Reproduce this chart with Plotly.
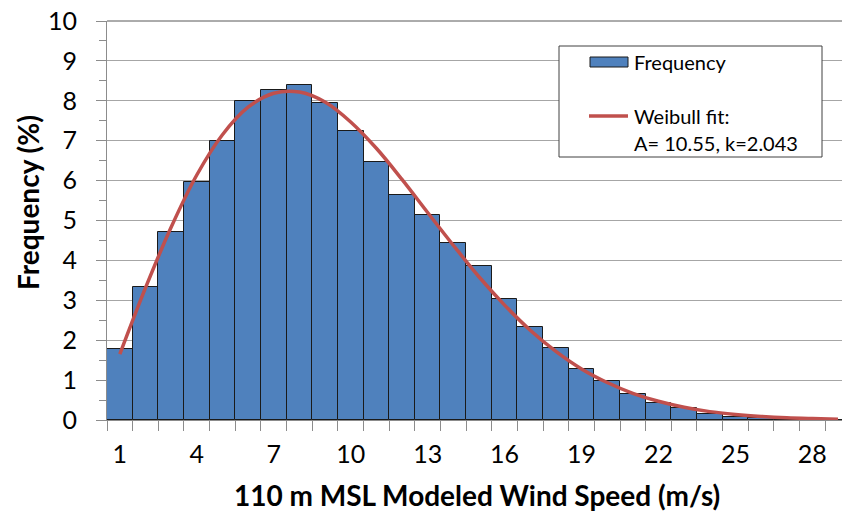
import plotly.graph_objects as go

# Wind speed bins (m/s) and frequency (%)
speed_bins = list(range(1, 30))
frequency = [1.78, 3.33, 4.70, 5.97, 7.00, 7.99, 8.26, 8.40, 7.94, 7.25,
             6.47, 5.65, 5.15, 4.43, 3.86, 3.03, 2.32, 1.80, 1.29, 0.99,
             0.65, 0.42, 0.29, 0.14, 0.08, 0.04, 0.02, 0.01, 0.005]

# Weibull fit curve
fit_x = list(range(1, 30))
fit_y = [1.65, 3.31, 4.83, 6.14, 7.15, 7.84, 8.19, 8.22, 7.97, 7.47,
         6.81, 6.03, 5.20, 4.38, 3.59, 2.88, 2.25, 1.72, 1.28, 0.94,
         0.67, 0.47, 0.32, 0.21, 0.14, 0.09, 0.055, 0.035, 0.02]

x_tick_vals = [1, 4, 7, 10, 13, 16, 19, 22, 25, 28]
y_tick_vals = list(range(0, 11))

legend_labels = ["Frequency", "Weibull fit:", "A= 10.55, k=2.043"]
x_title = "110 m MSL Modeled Wind Speed (m/s)"
y_title = "Frequency (%)"

FONT = "Lato"
W, H = 842, 512
L, R, T, B = 107, 0, 21, 92
PW, PH = W - L - R, H - T - B


def px_x(p):
    return (p - L) / PW


def px_y(p):
    return (H - B - p) / PH


fig = go.Figure()
fig.add_trace(go.Bar(
    x=speed_bins, y=frequency, width=1, name=legend_labels[0],
    marker=dict(color="#4F81BD", line=dict(color="#1a1a1a", width=1)),
))
fig.add_trace(go.Scatter(
    x=fit_x, y=fit_y, mode="lines", line_shape="spline",
    name=legend_labels[1] + " " + legend_labels[2],
    line=dict(color="#C0504D", width=3.5),
))

shapes = [
    # plot-area top border
    dict(type="line", xref="paper", yref="paper", x0=0, x1=1, y0=1, y1=1,
         line=dict(color="#595959", width=1)),
    # legend box
    dict(type="rect", xref="paper", yref="paper",
         x0=px_x(559), x1=px_x(822), y0=px_y(157), y1=px_y(46),
         fillcolor="white", line=dict(color="#404040", width=1), layer="above"),
    # legend swatch: bars
    dict(type="rect", xref="paper", yref="paper",
         x0=px_x(590), x1=px_x(628), y0=px_y(67), y1=px_y(57),
         fillcolor="#4F81BD", line=dict(color="#1a1a1a", width=1), layer="above"),
    # legend swatch: line
    dict(type="line", xref="paper", yref="paper",
         x0=px_x(589), x1=px_x(628), y0=px_y(116), y1=px_y(116),
         line=dict(color="#C0504D", width=3.5), layer="above"),
]

annotations = [
    dict(text=legend_labels[0], xref="paper", yref="paper", x=px_x(632), y=px_y(62),
         xanchor="left", yanchor="middle", showarrow=False, font=dict(size=20)),
    dict(text=legend_labels[1], xref="paper", yref="paper", x=px_x(632), y=px_y(116),
         xanchor="left", yanchor="middle", showarrow=False, font=dict(size=20)),
    dict(text=legend_labels[2], xref="paper", yref="paper", x=px_x(632), y=px_y(143),
         xanchor="left", yanchor="middle", showarrow=False, font=dict(size=20)),
    dict(text="<b>" + x_title + "</b>", xref="paper", yref="paper",
         x=px_x(477), y=px_y(495), xanchor="center", yanchor="middle",
         showarrow=False, font=dict(size=28)),
    dict(text="<b>" + y_title + "</b>", xref="paper", yref="paper",
         x=px_x(28), y=px_y(203), xanchor="center", yanchor="middle",
         textangle=-90, showarrow=False, font=dict(size=28)),
]

fig.update_layout(
    width=W, height=H,
    margin=dict(l=L, r=R, t=T, b=B, autoexpand=False),
    plot_bgcolor="white", paper_bgcolor="white",
    font=dict(family=FONT, color="#000000"),
    bargap=0,
    showlegend=False,
    xaxis=dict(
        range=[0.5, 0.5 + PW / 25.65], tickmode="array", tickvals=x_tick_vals,
        ticktext=[str(v) for v in x_tick_vals], ticks="",
        tickfont=dict(size=25), showgrid=False, automargin=False,
        ticklabelstandoff=12,
        showline=True, linecolor="#8c8c8c", linewidth=1,
        minor=dict(tick0=0.5, dtick=1, ticks="outside", ticklen=10,
                   tickcolor="#8c8c8c", showgrid=False),
        zeroline=False,
    ),
    yaxis=dict(
        range=[0, 10], tickmode="array", tickvals=y_tick_vals,
        ticks="outside", ticklen=10, tickcolor="#8c8c8c",
        tickfont=dict(size=25), showgrid=True, gridcolor="#a6a6a6",
        gridwidth=1, showline=True, linecolor="#8c8c8c", linewidth=1,
        automargin=False, ticklabelstandoff=14,
        minor=dict(tick0=0, dtick=0.5, ticks="outside", ticklen=7,
                   tickcolor="#8c8c8c", showgrid=False),
        zeroline=False,
    ),
    shapes=shapes,
    annotations=annotations,
)

fig.write_html(
    "out.html",
    config={"displayModeBar": False},
    post_script="document.documentElement.style.overflow='hidden';"
                "document.body.style.margin='0';document.body.style.padding='0';"
                "document.body.style.overflow='hidden';",
)
